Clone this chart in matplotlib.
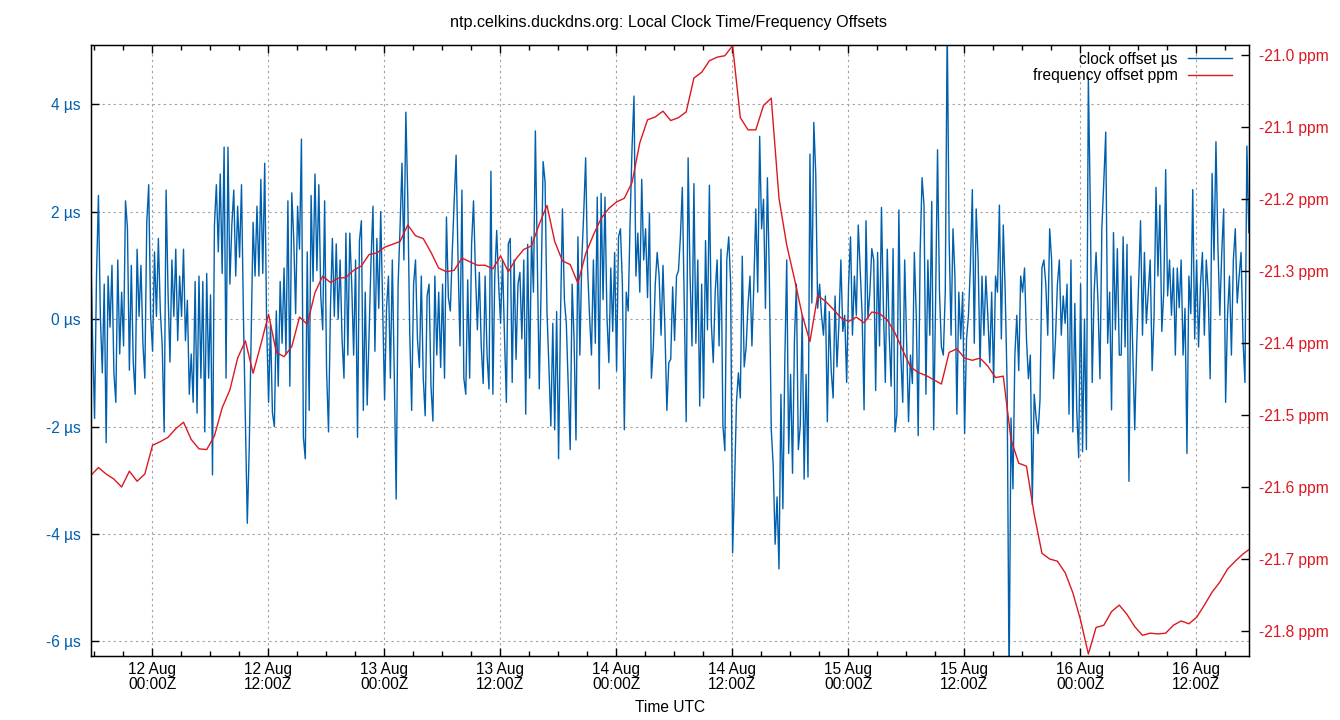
import matplotlib
matplotlib.use("Agg")
import matplotlib.pyplot as plt
import matplotlib.dates as mdates
import pandas as pd

plt.rcParams['font.family'] = ['Liberation Sans', 'DejaVu Sans']

# clock offset (µs), one reading every 12 minutes from 11 Aug 17:38Z
clock_start = "2023-08-11 17:38"
clock_offset_us = [
    # 11 Aug 17:38 - 12 Aug 14:14
    1.4, -0.4, -1.85, 0.8, 2.3, 0.05, -1.0, 0.65, -2.3, 0.8,
    -0.15, 1.0, -1.0, -1.55, 1.1, -0.65, 0.5, -0.5, 2.2, 1.7,
    -0.95, 1.0, -0.8, -1.4, 1.3, 0.05, 1.0, -0.45, -1.1, 1.8,
    2.5, 0.05, -0.6, 1.25, 0.05, 1.5, 0.15, -0.5, -2.1, 2.4,
    0.5, -0.8, 1.1, 0.05, 1.3, -0.4, 0.8, 0.05, 1.3, -0.4,
    0.35, -1.4, -0.65, -1.55, 0.7, -1.75, 0.8, -1.1, 0.7, -2.1,
    0.85, -1.1, 0.45, -2.9, 1.75, 2.5, 1.25, 2.7, 0.85, 3.2,
    -1.1, 3.2, 0.65, 1.75, 2.4, 0.8, 2.1, 1.15, 2.5, 0.05,
    -1.85, -3.8, -2.4, -0.3, 1.8, 0.8, 2.1, 0.8, 2.6, 0.85,
    2.9, -0.1, -1.55, -0.1, -1.75, -2.0, 0.15, -1.25, 0.7, -0.45,
    0.95, -0.65, 2.2,
    # 12 Aug 14:14 - 13 Aug 10:02
    -1.25, 2.35, 1.5, 0.1, 2.1, 1.3, 3.35, -2.2, -2.6, 1.25,
    -1.7, 2.3, 0.7, 2.7, 0.9, 2.5, 0.43, -0.2, 2.2, -0.96,
    -2.1, 0.2, 1.5, 0.05, 1.4, 0.0, 1.1, -0.37, -1.1, 1.6,
    -0.67, 1.6, 0.65, -0.67, 1.1, -2.2, 1.46, 1.83, -1.7, 0.5,
    -1.6, -0.23, 1.1, 2.1, -0.6, 1.5, 0.2, 2.0, 0.2, -1.5,
    0.2, 0.8, -1.1, 1.1, -1.0, -3.35, 0.65, 1.7, 2.9, 1.1,
    3.85, 2.25, -0.23, -1.7, 0.65, 1.1, -0.37, -0.9, 0.8, -1.1,
    -1.8, 0.43, 0.65, -1.25, -1.9, 0.8, -0.67, 0.5, -0.9, 0.65,
    -1.1, 1.9, 0.4, 0.15, 1.24, 2.2, 3.05, 1.1, -0.5, 2.4,
    -1.1, -1.4, 0.73, -1.1, 1.39, 2.2, 0.87, -0.2, 0.87, -0.5,
    # 13 Aug 10:02 - 14 Aug 06:02
    -1.2, 0.8, -0.67, -1.3, 2.75, -1.4, 0.8, 1.65, 0.65, -0.08,
    1.1, -0.3, -1.55, 1.4, 1.5, -1.18, 1.1, -0.75, 0.65, 0.87,
    -0.37, 1.1, -1.77, 1.39, -1.1, 1.53, 0.5, 3.5, 1.1, -1.3,
    0.65, 2.93, 2.56, 0.14, -0.89, -1.99, -0.08, -2.06, 0.14, -2.6,
    0.07, 2.05, 0.36, -0.08, -1.25, -2.43, 0.65, -0.37, -2.25, 1.53,
    -0.67, 1.1, 1.97, 3.0, 0.95, 0.07, -0.67, 1.1, -0.45, 2.27,
    -1.3, 2.34, 0.36, 2.27, 0.07, -0.81, 0.95, -0.23, 1.24, -0.96,
    1.53, 1.68, 0.65, -2.06, 0.5, 0.15, 1.83, 3.2, 4.15, 0.8,
    1.6, 0.5, 2.6, 1.1, 1.68, 0.4, 1.97, -1.1, -0.52, 0.65,
    1.24, 0.8, -0.3, 1.0, -0.2, -1.7, -0.81, -0.75, 0.6, -0.4,
    0.8,
    # 14 Aug 06:14 - 15 Aug 02:14
    0.9, 1.53, 2.45, 0.21, -1.91, 3.0, 0.8, -0.5, 2.52, -0.45,
    1.1, -1.62, 0.65, -1.47, 1.46, -0.2, 2.49, -0.08, -0.81, 0.5,
    1.1, -0.5, 1.3, -1.99, -2.45, 1.1, 1.53, 0.65, -4.35, -3.1,
    -1.55, -1.0, -1.47, 1.17, -0.89, -0.52, 0.28, 0.8, -0.5, 0.65,
    2.05, 0.5, 3.4, 1.68, 2.23, 0.2, 2.63, 0.8, -2.06, -2.72,
    -4.19, -3.31, -4.65, -1.4, -3.53, -0.81, 1.1, -2.5, -1.03, -2.87,
    -0.37, 0.65, -2.43, -1.99, 0.07, -2.98, -1.03, -2.94, 3.07, 0.3,
    3.66, 2.71, 0.2, 0.65, 0.07, -0.3, 0.43, -1.91, 0.14, -0.96,
    -1.47, 0.43, -0.89, -0.08, 1.1, -0.23, 0.07, -1.18, 0.65, 1.53,
    -0.3, 0.8, 0.07, 1.75, 0.9, 0.07, -1.69, 1.83, 0.0, 0.5,
    1.31,
    # 15 Aug 02:26 - 15 Aug 22:26
    1.1, -1.33, 1.24, -0.5, 2.08, 0.21, -1.18, 1.3, -0.3, -1.25,
    1.31, -2.1, -1.77, 2.03, -0.67, -1.55, 1.1, -0.37, -1.91, -0.67,
    -1.2, 1.24, 0.07, -2.17, 1.24, 2.63, 2.12, -1.4, 1.1, -0.3,
    2.19, -2.06, 0.36, 3.15, 0.5, -0.52, -0.67, 0.5, 5.5, 1.5,
    -0.3, 1.68, 0.8, -1.77, 0.5, -0.37, 0.5, -2.13, -0.37, 0.07,
    1.0, 2.41, -0.45, 2.05, 1.1, -0.89, 0.8, -0.3, 0.8, 0.07,
    -0.81, 0.5, -1.18, 0.8, 0.5, 2.12, -0.37, 1.75, 0.5, -1.25,
    -6.8, -1.84, -3.16, -0.67, 0.07, -0.96, 0.8, 0.5, 0.95, -0.37,
    -1.11, -0.67, -3.45, -1.4, -1.84, -2.13, -1.5, 0.95, 1.1, 0.65,
    -0.3, 1.68, 1.1, -1.11, -0.37, 0.65, 1.1, -0.3, 0.43, -0.08,
    0.65,
    # 15 Aug 22:38 - 16 Aug 17:14
    -1.77, 1.1, -2.1, 0.29, -1.69, -2.58, 0.65, -2.47, 0.0, -2.43,
    4.5, 2.12, -1.18, 0.5, 1.24, 0.3, -1.11, 1.7, 2.56, 3.48,
    -0.45, 0.5, -1.69, 1.61, -0.2, 1.31, -0.67, -0.67, 1.53, -0.52,
    1.39, -3.02, 0.8, -0.67, -2.06, -0.52, 0.65, 1.83, -0.3, 1.24,
    -0.08, 0.5, 1.1, -0.96, 0.07, 2.45, 0.8, 2.12, -0.23, 0.5,
    2.78, 0.43, 1.1, 0.07, 0.95, -0.67, 0.95, 0.21, 1.1, -0.67,
    0.2, -2.5, 0.8, 0.1, 2.41, -0.37, 1.1, -0.52, 0.65, 1.24,
    -0.3, 1.1, 0.5, -1.11, 2.71, 1.1, 3.3, 1.39, 0.07, 1.24,
    2.05, -1.55, 0.07, 0.8, -0.67, 1.1, 1.68, 0.3, 0.8, 1.24,
    -0.4, -1.18, 3.22, 1.61,
]

# frequency offset (ppm), one reading every 48 minutes
freq_start = "2023-08-11 17:38"
freq_offset_ppm = [
    -21.584, -21.573, -21.582, -21.589, -21.600, -21.578, -21.592, -21.582, -21.542, -21.537,
    -21.531, -21.519, -21.510, -21.534, -21.547, -21.548, -21.529, -21.490, -21.465, -21.421,
    -21.397, -21.442, -21.402, -21.360, -21.413, -21.419,
    -21.405, -21.364, -21.374, -21.330, -21.307, -21.316, -21.310, -21.309, -21.299, -21.293,
    -21.277, -21.275, -21.267, -21.263, -21.259, -21.236, -21.251, -21.255, -21.274, -21.296,
    -21.301, -21.299, -21.282, -21.287, -21.292,
    -21.292, -21.297, -21.279, -21.301, -21.283, -21.270, -21.265, -21.235, -21.209, -21.259,
    -21.286, -21.291, -21.317, -21.276, -21.250, -21.227, -21.213, -21.204, -21.199, -21.177,
    -21.122, -21.090, -21.086, -21.078, -21.091,
    -21.087, -21.079, -21.032, -21.024, -21.008, -21.003, -21.001, -20.987, -21.087, -21.104,
    -21.104, -21.070, -21.060, -21.199, -21.264, -21.311, -21.361, -21.398, -21.334, -21.342,
    -21.353, -21.365, -21.370, -21.364, -21.372, -21.357,
    -21.359, -21.368, -21.386, -21.410, -21.433, -21.441, -21.445, -21.451, -21.457, -21.413,
    -21.408, -21.421, -21.424, -21.421, -21.432, -21.448, -21.446, -21.534, -21.567, -21.571,
    -21.638, -21.692, -21.700, -21.703, -21.719,
    -21.747, -21.785, -21.832, -21.795, -21.792, -21.773, -21.764, -21.777, -21.794, -21.806,
    -21.803, -21.804, -21.803, -21.792, -21.786, -21.790, -21.781, -21.764, -21.746, -21.732,
    -21.714, -21.703, -21.693, -21.685,
]

us_ticks = [-6, -4, -2, 0, 2, 4]
ppm_ticks = [-21.8, -21.7, -21.6, -21.5, -21.4, -21.3, -21.2, -21.1, -21.0]

BLUE = "#0060ad"
RED = "#dd181f"
FS = 11.2

t_clock = pd.date_range(clock_start, periods=len(clock_offset_us), freq="12min")
t_freq = pd.date_range(freq_start, periods=len(freq_offset_ppm), freq="48min")

fig = plt.figure(figsize=(13.4, 7.2), dpi=100)
ax = fig.add_axes([90.7 / 1340, 64 / 720, 1158.6 / 1340, 611 / 720])
ax2 = ax.twinx()

l1, = ax.plot(t_clock, clock_offset_us, color=BLUE, lw=1.0, label="clock offset µs")
l2, = ax2.plot(t_freq, freq_offset_ppm, color=RED, lw=1.0, label="frequency offset ppm")

ax.set_xlim(pd.Timestamp("2023-08-11 17:38"), pd.Timestamp("2023-08-16 17:29"))
ax.set_ylim(-6.27, 5.10)
ax2.set_ylim(-21.8347, -20.9861)

# x axis: labels every 12 h, minor ticks every 3 h
ax.xaxis.set_major_locator(mdates.HourLocator(byhour=[0, 12]))
ax.xaxis.set_minor_locator(mdates.HourLocator(byhour=range(0, 24, 3)))
ax.xaxis.set_major_formatter(mdates.DateFormatter("%d %b\n%H:%MZ"))
ax.tick_params(axis="x", which="major", direction="in", top=True, length=6, width=1,
               pad=4.5, labelsize=FS)
ax.tick_params(axis="x", which="minor", direction="in", top=True, length=3.5, width=1)

ax.set_yticks(us_ticks, [f"{v} µs" for v in us_ticks])
ax.tick_params(axis="y", direction="in", length=6, width=1, pad=7,
               labelsize=FS, labelcolor=BLUE)
ax2.set_yticks(ppm_ticks, [f"{v:.1f} ppm" for v in ppm_ticks])
ax2.tick_params(axis="y", direction="in", length=6, width=1, pad=7,
                labelsize=FS, labelcolor=RED)

ax.grid(True, which="major", color="#a0a0a0", linestyle=(0, (2, 3)), linewidth=0.8)
for sp in ax.spines.values():
    sp.set_linewidth(1)

fig.canvas.draw()
for lbl in ax.get_xticklabels():
    lbl.set_linespacing(0.95)

ax2.legend([l1, l2], [l1.get_label(), l2.get_label()], loc="upper right",
           bbox_to_anchor=(0.985, 0.989), frameon=False, markerfirst=False,
           handlelength=2.8, handletextpad=0.7, labelspacing=0.1,
           borderpad=0, borderaxespad=0, fontsize=FS)

fig.text(668 / 1340, 1 - 22.5 / 720,
         "ntp.celkins.duckdns.org: Local Clock Time/Frequency Offsets",
         ha="center", va="center", fontsize=11.6)
fig.text(670 / 1340, 1 - 707.5 / 720, "Time UTC", ha="center", va="center", fontsize=FS)

fig.savefig("out.png", dpi=100)
